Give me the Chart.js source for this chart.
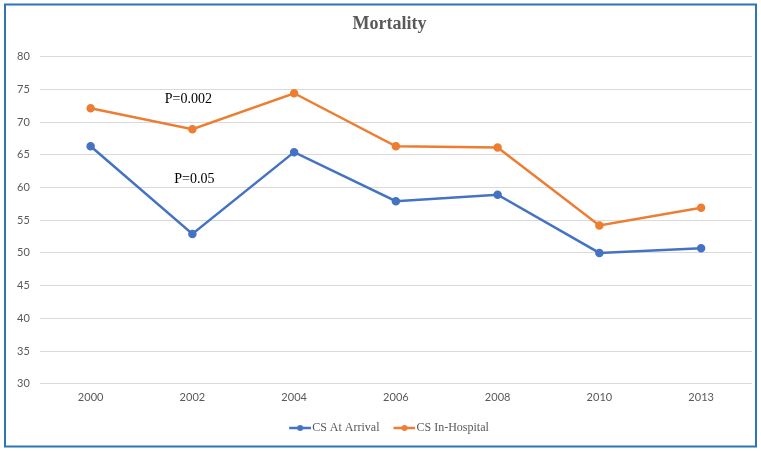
<!DOCTYPE html>
<html>
<head>
<meta charset="utf-8">
<script src="https://cdn.jsdelivr.net/npm/chart.js@4/dist/chart.umd.min.js"></script>
<style>
  html, body { margin: 0; padding: 0; background: #fff; }
  #wrap { width: 761px; height: 451px; }
</style>
</head>
<body>
<div id="wrap"><canvas id="mortalityChart" width="761" height="451"></canvas></div>
<script>
const years = ["2000", "2002", "2004", "2006", "2008", "2010", "2013"];
const atArrival = [66.3, 52.9, 65.4, 57.9, 58.9, 50.0, 50.7];
const inHospital = [72.1, 68.9, 74.4, 66.3, 66.1, 54.2, 56.9];
const yTicks = [30, 35, 40, 45, 50, 55, 60, 65, 70, 75, 80];
// p-value labels: text, category index, value
const pLabels = [
  { text: "P=0.002", x: 0.96, y: 73.4 },
  { text: "P=0.05", x: 1.02, y: 61.2 }
];

const blue = "#4472C4";
const orange = "#ED7D31";

// legend marker: short line with a dot, like the spreadsheet original
function legendMarker(color) {
  const c = document.createElement("canvas");
  c.width = 30;
  c.height = 8;
  const g = c.getContext("2d");
  g.strokeStyle = color;
  g.lineWidth = 2.5;
  g.beginPath();
  g.moveTo(8, 4);
  g.lineTo(30, 4);
  g.stroke();
  g.fillStyle = color;
  g.beginPath();
  g.arc(19, 4, 3, 0, Math.PI * 2);
  g.fill();
  return c;
}

const frame = {
  id: "frame",
  beforeDraw(chart) {
    const c = chart.ctx;
    c.save();
    c.fillStyle = "#fff";
    c.fillRect(0, 0, chart.width, chart.height);
    c.strokeStyle = "#2E75B6";
    c.lineWidth = 2;
    c.strokeRect(5, 4.5, 751, 442);
    c.restore();
  }
};

// title and legend sit a little right of the plot centre in the original
const nudge = {
  id: "nudge",
  afterLayout(chart) {
    chart.legend.left += 8;
    chart.legend.right += 8;
    chart.titleBlock.left += 10;
    chart.titleBlock.right += 10;
  }
};

const pText = {
  id: "pText",
  afterDatasetsDraw(chart) {
    const c = chart.ctx;
    const xs = chart.scales.x, ys = chart.scales.y;
    c.save();
    c.font = "14px 'Liberation Serif', 'Times New Roman', serif";
    c.fillStyle = "#000";
    c.textAlign = "center";
    c.textBaseline = "middle";
    pLabels.forEach(p => {
      c.fillText(p.text, xs.getPixelForValue(p.x), ys.getPixelForValue(p.y));
    });
    c.restore();
  }
};

new Chart(document.getElementById("mortalityChart"), {
  type: "line",
  data: {
    labels: years,
    datasets: [
      {
        label: "CS At Arrival",
        data: atArrival,
        borderColor: blue,
        backgroundColor: blue,
        borderWidth: 2.5,
        pointRadius: 3,
        pointStyle: "circle",
        tension: 0
      },
      {
        label: "CS In-Hospital",
        data: inHospital,
        borderColor: orange,
        backgroundColor: orange,
        borderWidth: 2.5,
        pointRadius: 3,
        pointStyle: "circle",
        tension: 0
      }
    ]
  },
  options: {
    responsive: false,
    animation: false,
    devicePixelRatio: 1,
    layout: { padding: { left: 7, right: 9, top: 0, bottom: 7 } },
    plugins: {
      title: {
        display: true,
        text: "Mortality",
        color: "#595959",
        font: { family: "'Liberation Serif', 'Times New Roman', serif", size: 18, weight: "bold" },
        padding: { top: 14, bottom: 21 }
      },
      legend: {
        position: "bottom",
        labels: {
          usePointStyle: true,
          pointStyleWidth: 20,
          padding: 11,
          color: "#595959",
          font: { family: "'Liberation Serif', 'Times New Roman', serif", size: 12 },
          generateLabels(chart) {
            return chart.data.datasets.map((ds, i) => ({
              text: ds.label,
              pointStyle: legendMarker(ds.borderColor),
              fontColor: "#595959",
              strokeStyle: ds.borderColor,
              fillStyle: ds.borderColor,
              lineWidth: 0,
              datasetIndex: i
            }));
          }
        }
      },
      tooltip: { enabled: false }
    },
    scales: {
      x: {
        offset: true,
        grid: { display: false, drawTicks: false },
        border: { display: false },
        ticks: {
          color: "#595959",
          padding: 7,
          font: { family: "Lato, 'Open Sans', sans-serif", size: 11 }
        }
      },
      y: {
        min: 30,
        max: 80,
        afterBuildTicks(scale) {
          scale.ticks = yTicks.map(v => ({ value: v }));
        },
        grid: { color: "#D9D9D9", lineWidth: 1, drawTicks: false },
        border: { display: false },
        ticks: {
          color: "#595959",
          padding: 10,
          font: { family: "Lato, 'Open Sans', sans-serif", size: 11 }
        }
      }
    }
  },
  plugins: [frame, nudge, pText]
});
</script>
</body>
</html>
